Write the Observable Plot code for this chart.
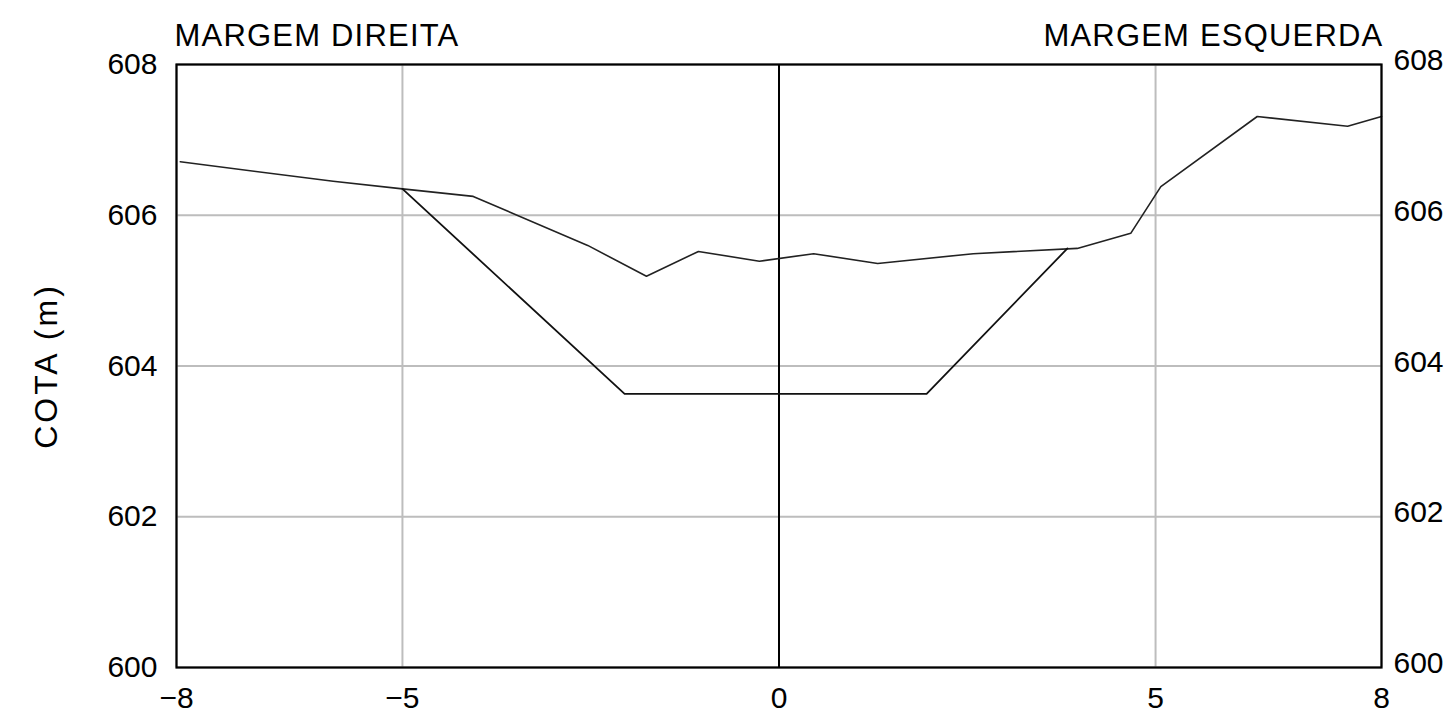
<!DOCTYPE html>
<html>
<head>
<meta charset="utf-8">
<script src="https://cdn.jsdelivr.net/npm/d3@7"></script>
<script src="https://cdn.jsdelivr.net/npm/@observablehq/plot@0.6"></script>
<style>
  html, body { margin: 0; padding: 0; background: #fff; }
  svg { display: block; }
</style>
</head>
<body>
<div id="chart"></div>
<script>
// Terrain profile (existing ground)
const terrainX = [-7.95, -5.92, -5.0, -4.06, -2.54, -1.76, -1.07, -0.26, 0.46, 1.31, 2.58, 3.96, 4.67, 5.07, 6.35, 7.55, 8.0];
const terrainY = [606.71, 606.45, 606.35, 606.25, 605.6, 605.19, 605.52, 605.39, 605.49, 605.36, 605.49, 605.56, 605.76, 606.38, 607.31, 607.18, 607.31];
// Excavation / design section
const sectionX = [-5.0, -2.05, 1.96, 3.83];
const sectionY = [606.35, 603.63, 603.63, 605.56];
// Ticks & labels
const xTicks = [-8, -5, 0, 5, 8];
const yTicks = [600, 602, 604, 606, 608];
const titleLeft = "MARGEM DIREITA";
const titleRight = "MARGEM ESQUERDA";
const yLabel = "COTA (m)";

const terrain = terrainX.map((x, i) => ({x, y: terrainY[i]}));
const section = sectionX.map((x, i) => ({x, y: sectionY[i]}));

const font = "'Liberation Sans', Arial, sans-serif";

const chart = Plot.plot({
  width: 1449,
  height: 716,
  marginLeft: 176,
  marginRight: 68,
  marginTop: 64,
  marginBottom: 49,
  style: {fontFamily: font, fontSize: "30px", color: "#000", background: "#fff"},
  x: {domain: [-8, 8], ticks: xTicks},
  y: {domain: [600, 608], ticks: yTicks},
  marks: [
    Plot.gridX(xTicks, {stroke: "#bdbdbd", strokeOpacity: 1, strokeWidth: 2}),
    Plot.gridY(yTicks, {stroke: "#bdbdbd", strokeOpacity: 1, strokeWidth: 2}),
    Plot.ruleX([0], {stroke: "#000", strokeWidth: 2}),
    Plot.line(terrain, {x: "x", y: "y", stroke: "#222", strokeWidth: 1.6}),
    Plot.line(section, {x: "x", y: "y", stroke: "#111", strokeWidth: 1.8}),
    Plot.frame({stroke: "#000", strokeWidth: 2.2}),
    Plot.axisX({ticks: xTicks, tickSize: 0, tickPadding: 19, fontSize: 30, label: null, tickFormat: d => d < 0 ? "\u2212" + Math.abs(d) : String(d)}),
    Plot.axisY({anchor: "left", ticks: yTicks, tickSize: 0, tickPadding: 19, fontSize: 30, label: null}),
    Plot.axisY({anchor: "right", ticks: yTicks, tickSize: 0, tickPadding: 12, fontSize: 30, dy: -4, label: null}),
    Plot.text([yLabel], {frameAnchor: "left", textAnchor: "middle", lineAnchor: "middle", dx: -130, rotate: -90, fontSize: 32, fill: "#000"}),
    Plot.text([titleLeft], {frameAnchor: "top-left", textAnchor: "start", dx: -2, dy: -28, fontSize: 31, fill: "#000", lineAnchor: "middle"}),
    Plot.text([titleRight], {frameAnchor: "top-right", textAnchor: "end", dx: 2, dy: -28, fontSize: 31, fill: "#000", lineAnchor: "middle"})
  ]
});
document.getElementById("chart").append(chart);
// wider letter spacing to mimic CAD lettering
chart.querySelectorAll("g[aria-label='text'] text").forEach(t => {
  if (t.textContent.startsWith("MARGEM")) t.setAttribute("letter-spacing", "1.2");
  if (t.textContent.startsWith("COTA")) t.setAttribute("letter-spacing", "3");
});
</script>
</body>
</html>
